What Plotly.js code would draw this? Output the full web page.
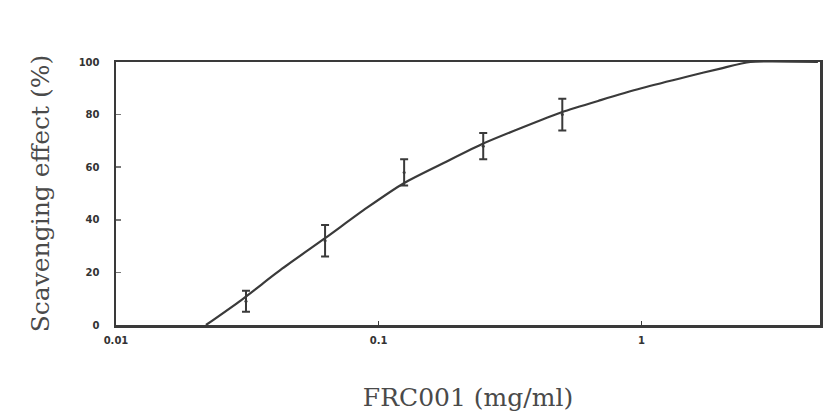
<!DOCTYPE html>
<html>
<head>
<meta charset="utf-8">
<script src="https://cdn.plot.ly/plotly-3.0.1.min.js"></script>
<style>
  html, body { margin: 0; padding: 0; background: #fff; }
  #chart { width: 824px; height: 414px; }
</style>
</head>
<body>
<div id="chart"></div>
<script>
// Concentrations of the doubling dilution series (mg/ml)
const conc = [0.03125, 0.0625, 0.125, 0.25, 0.5];
// Mean scavenging effect (%) and its spread
const effect = [9, 32, 58, 68, 80];
const spread = [4, 6, 5, 5, 6];

// Fitted dose-response curve
const fitX = [0.022, 0.03, 0.043, 0.0625, 0.09, 0.125, 0.18, 0.25, 0.35, 0.5, 0.7, 1, 1.5, 2, 2.6, 4.7];
const fitY = [0, 9.5, 21.5, 33, 44.5, 54, 62, 69, 75, 81, 85.5, 90, 94.5, 97.5, 100, 100];

// Axis ticks
const xTicks = [0.01, 0.1, 1];
const xTickText = ['0.01', '0.1', '1'];
const yTicks = [0, 20, 40, 60, 80, 100];

const ink = '#3a3a3a';
const tickFont = { family: 'DejaVu Sans, sans-serif', size: 10, color: '#333', weight: 'bold' };
const titleFont = { family: 'DejaVu Serif, serif', size: 25, color: '#4a4a4a' };

const traces = [
  {
    x: fitX, y: fitY, type: 'scatter', mode: 'lines',
    line: { color: ink, width: 2.2, shape: 'spline', smoothing: 0.6 },
    hoverinfo: 'skip', showlegend: false
  },
  {
    x: conc, y: effect, type: 'scatter', mode: 'markers',
    marker: { size: 3, color: ink },
    error_y: { type: 'data', array: spread, visible: true, color: ink, thickness: 2, width: 4 },
    showlegend: false
  }
];

const layout = {
  width: 824, height: 414,
  margin: { l: 116, r: 4, t: 62, b: 89 },
  paper_bgcolor: '#fff', plot_bgcolor: '#fff',
  showlegend: false,
  xaxis: {
    type: 'log',
    range: [-2, 0.68],
    tickvals: xTicks, ticktext: xTickText,
    ticks: 'inside', ticklen: 4, tickwidth: 1.5, tickcolor: ink,
    ticklabelstandoff: 4,
    showline: true, linecolor: ink, linewidth: 2.5, mirror: true,
    showgrid: false, zeroline: false,
    tickfont: tickFont,
    title: { text: 'FRC001 (mg/ml)', standoff: 44, font: titleFont }
  },
  yaxis: {
    range: [0, 100],
    tickvals: yTicks,
    ticks: 'inside', ticklen: 5, tickwidth: 1.5, tickcolor: '#777',
    ticklabelstandoff: 12,
    showline: true, linecolor: ink, linewidth: 2.5, mirror: true,
    showgrid: false, zeroline: false,
    tickfont: tickFont,
    title: { text: 'Scavenging effect (%)', standoff: 22, font: titleFont }
  }
};

Plotly.newPlot('chart', traces, layout, { staticPlot: true, displayModeBar: false });
</script>
</body>
</html>
